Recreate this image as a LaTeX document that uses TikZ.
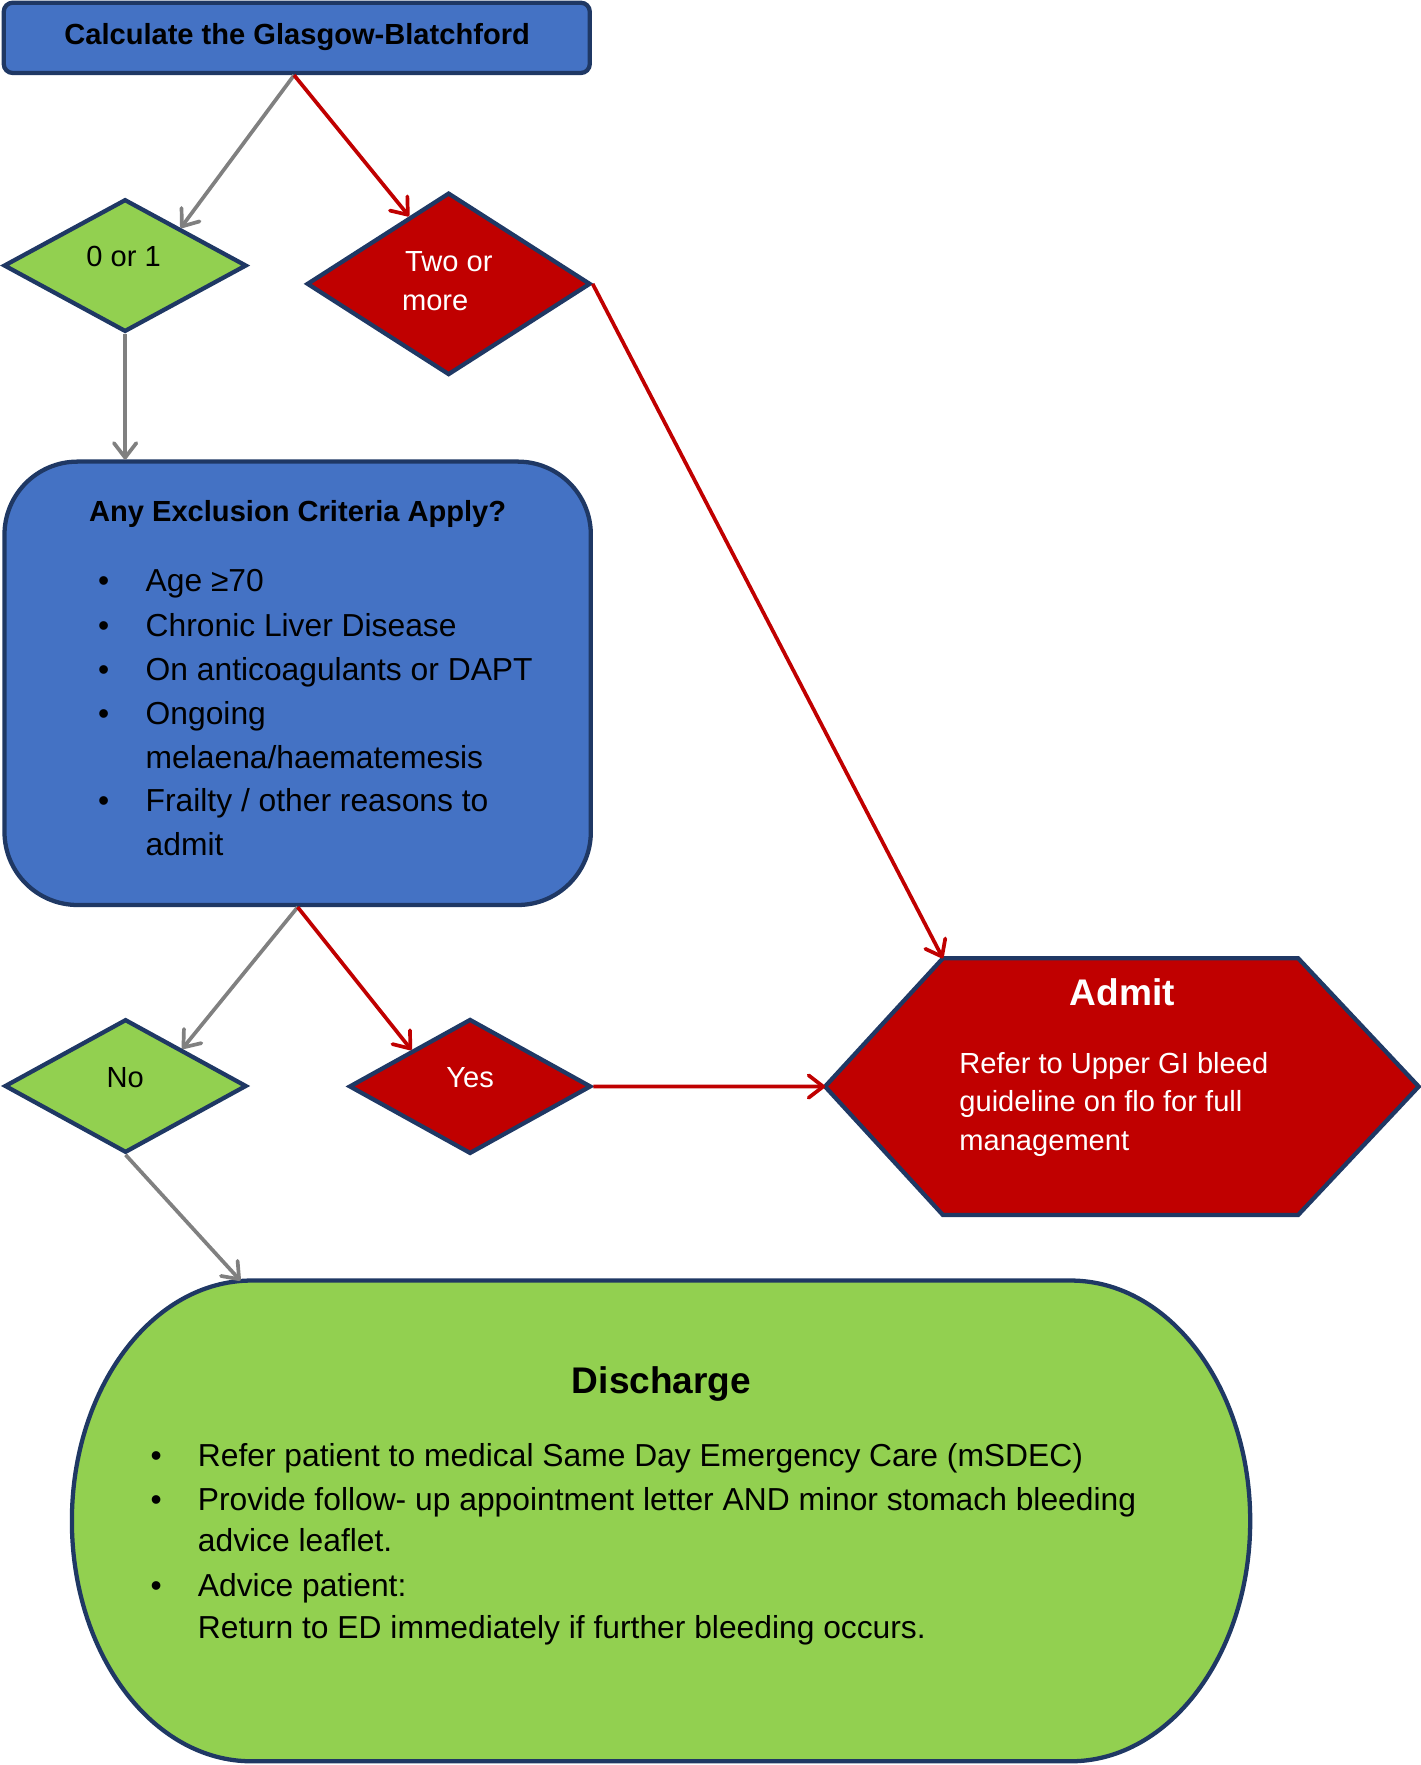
\documentclass[tikz,border=0pt]{standalone}
\usepackage{fontspec}
\setmainfont{Liberation Sans}
\usetikzlibrary{shapes.geometric,arrows.meta,calc}
\definecolor{navy}{HTML}{1F3864}
\definecolor{boxblue}{HTML}{4472C4}
\definecolor{boxgreen}{HTML}{92D050}
\definecolor{boxred}{HTML}{C00000}
\definecolor{arrgray}{HTML}{808080}
\begin{document}
\begin{tikzpicture}[x=1pt,y=1pt,
  shp/.style={draw=navy,line width=3.8pt},
  dia/.style={shp,diamond,inner sep=0pt},
  arr/.style={line width=3.3pt,-{Straight Barb[length=13pt,width=20pt,round]}},
  ga/.style={arr,draw=arrgray},
  ra/.style={arr,draw=boxred},
  tl/.style={inner sep=0pt,anchor=base west},
  tc/.style={inner sep=0pt,anchor=base},
  fA/.style={font=\fontsize{25.9}{34}\selectfont},
  fAb/.style={font=\bfseries\fontsize{25.9}{34}\selectfont},
  fB/.style={font=\fontsize{28.3}{39}\selectfont},
  fC/.style={font=\bfseries\fontsize{33}{40}\selectfont},
  bul/.style={inner sep=0pt,anchor=base,font=\fontsize{28.3}{39}\selectfont}]
\useasboundingbox (0,0) rectangle (1264.8,-1571.3);

% shapes
\node[shp,fill=boxblue,rounded corners=8pt,minimum width=521.7pt,minimum height=62.6pt,inner sep=0pt] (calc) at (264.2,-33.7) {};
\node[dia,fill=boxgreen,minimum width=216.3pt,minimum height=118pt] (zero) at (111.4,-236.4) {};
\node[dia,fill=boxred,minimum width=252.6pt,minimum height=162.3pt] (two) at (399.4,-252.7) {};
\node[shp,fill=boxblue,rounded corners=65pt,minimum width=522pt,minimum height=394.7pt,inner sep=0pt] (excl) at (265,-608.3) {};
\node[dia,fill=boxgreen,minimum width=215.5pt,minimum height=118.8pt] (no) at (111.8,-966.8) {};
\node[dia,fill=boxred,minimum width=215.5pt,minimum height=120pt] (yes) at (418.5,-967.2) {};

% admit hexagon
\coordinate (admL) at (734.5,-967.3);
\coordinate (admTL) at (839.4,-853.1);
\coordinate (admTR) at (1155.7,-853.1);
\coordinate (admR) at (1263,-967.3);
\coordinate (admBR) at (1155.7,-1081.6);
\coordinate (admBL) at (839.4,-1081.6);
\draw[shp,fill=boxred] (admL) -- (admTL) -- (admTR) -- (admR) -- (admBR) -- (admBL) -- cycle;

% discharge
\coordinate (disTop) at (214,-1140);
\draw[shp,fill=boxgreen] (224,-1140) -- (953,-1140)
  arc[start angle=90,end angle=-90,x radius=160,y radius=214] -- (224,-1568)
  arc[start angle=270,end angle=90,x radius=160,y radius=214] -- cycle;

% connectors
\draw[ga] ([xshift=-2.4pt]calc.south) -- ($(zero.north)!0.45!(zero.east)$);
\draw[ra] ([xshift=-2.4pt]calc.south) -- ($(two.north)!0.275!(two.west)$);
\draw[ga] (zero.south) -- (zero.south |- excl.north);
\draw[ra] (two.east) -- (admTL);
\draw[ga] (excl.south) -- ($(no.north)!0.46!(no.east)$);
\draw[ra] (excl.south) -- ($(yes.north)!0.476!(yes.west)$);
\draw[ra] (yes.east) -- (admL);
\draw[ga] (no.south) -- (disTop);

% texts
\node[tc,fAb] (tcalc) at (264.5,-40) {Calculate the Glasgow-Blatchford};
\node[tc,fA] (tzero) at (110,-237.4) {0 or 1};
\node[tl,fA,text=white] (ttwoa) at (360.5,-241.9) {Two or};
\node[tl,fA,text=white] (ttwob) at (357.7,-276) {more};

\node[tc,fAb] (texcl) at (265,-464.4) {Any Exclusion Criteria Apply?};
\node[bul] (eb1) at (92.4,-526.7) {•};
\node[tl,fB] (e1) at (129.5,-526.7) {Age ≥70};
\node[bul] (eb2) at (92.4,-566.8) {•};
\node[tl,fB] (e2) at (129.5,-566.8) {Chronic Liver Disease};
\node[bul] (eb3) at (92.4,-606) {•};
\node[tl,fB] (e3) at (129.5,-606) {On anticoagulants or DAPT};
\node[bul] (eb4) at (92.4,-645.4) {•};
\node[tl,fB] (e4) at (129.5,-645.4) {Ongoing};
\node[tl,fB] (e5) at (129.5,-684) {melaena/haematemesis};
\node[bul] (eb6) at (92.4,-722.6) {•};
\node[tl,fB] (e6) at (129.5,-722.6) {Frailty / other reasons to};
\node[tl,fB] (e7) at (129.5,-761.2) {admit};

\node[tc,fA] (tno) at (111.5,-968) {No};
\node[tc,fA,text=white] (tyes) at (418.5,-968) {Yes};

\node[tc,fC,text=white] (tadmit) at (999,-894.7) {Admit};
\node[tl,fA,text=white] (a1) at (853.9,-955.5) {Refer to Upper GI bleed};
\node[tl,fA,text=white] (a2) at (853.9,-989.7) {guideline on flo for full};
\node[tl,fA,text=white] (a3) at (853.9,-1023.8) {management};

\node[tc,fC] (tdis) at (589,-1240.4) {Discharge};
\node[bul] (db1) at (139,-1305.7) {•};
\node[tl,fB] (d1) at (176,-1305.7) {Refer patient to medical Same Day Emergency Care (mSDEC)};
\node[bul] (db2) at (139,-1344.3) {•};
\node[tl,fB] (d2) at (176,-1344.3) {Provide follow- up appointment letter AND minor stomach bleeding};
\node[tl,fB] (d3) at (176,-1381.4) {advice leaflet.};
\node[bul] (db4) at (139,-1421.4) {•};
\node[tl,fB] (d4) at (176,-1421.4) {Advice patient:};
\node[tl,fB] (d5) at (176,-1458.5) {Return to ED immediately if further bleeding occurs.};
\end{tikzpicture}
\end{document}
